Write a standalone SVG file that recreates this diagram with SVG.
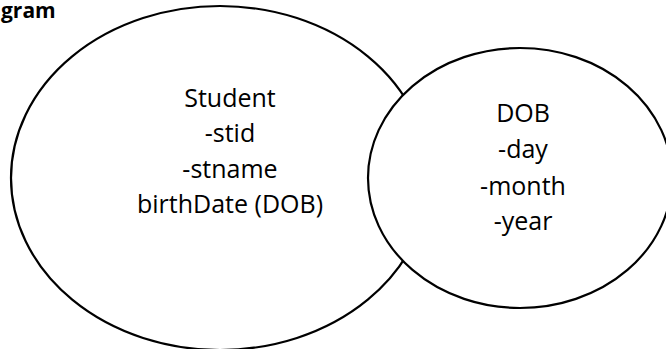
<svg xmlns="http://www.w3.org/2000/svg" width="666" height="349" viewBox="0 0 666 349">
<style>
.shape{fill:#fff;stroke:#000;stroke-width:2.2}
.t{font-family:"Open Sans","Liberation Sans",sans-serif;font-size:25px;fill:#000;text-anchor:middle}
.title{font-family:"Open Sans","Liberation Sans",sans-serif;font-size:21px;font-weight:bold;fill:#000}
</style>
<rect width="666" height="349" fill="#fff"/>
<text class="title" x="1" y="18">gram</text>
<g id="student">
<ellipse class="shape" cx="220" cy="178" rx="209" ry="172"/>
<text class="t" x="230" y="107">Student</text>
<text class="t" x="230" y="142">-stid</text>
<text class="t" x="230" y="178">-stname</text>
<text class="t" x="230" y="213">birthDate (DOB)</text>
</g>
<g id="dob">
<ellipse class="shape" cx="520" cy="178" rx="152" ry="130"/>
<text class="t" x="523" y="122">DOB</text>
<text class="t" x="523" y="158">-day</text>
<text class="t" x="523" y="195">-month</text>
<text class="t" x="523" y="230">-year</text>
</g>
<g id="connectors"/>
</svg>
